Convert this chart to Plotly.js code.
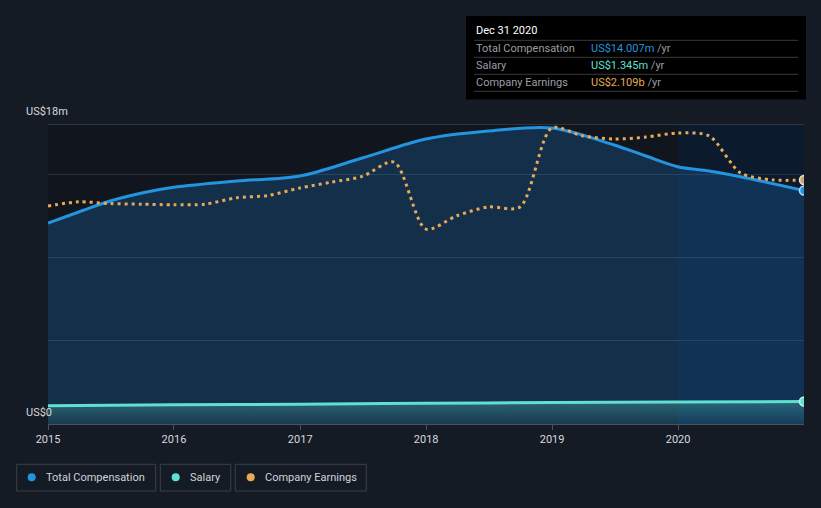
<!DOCTYPE html>
<html>
<head>
<meta charset="utf-8">
<script src="https://cdn.plot.ly/plotly-3.0.1.min.js"></script>
<style>
html,body{margin:0;padding:0;background:#151b24;}
#chart{width:821px;height:508px;}
</style>
</head>
<body>
<div id="chart"></div>
<script>
// ---- data ----
const compDates = ['2015-01-01','2015-03-31','2015-06-30','2015-09-30','2015-12-31','2016-06-30','2016-12-31','2017-06-30','2017-12-31','2018-06-30','2018-12-31','2019-06-30','2019-09-30','2019-12-31','2020-03-31','2020-06-30','2020-12-31'];
const compValues = [12.06,12.72,13.38,13.86,14.2,14.58,14.88,15.96,17.1,17.58,17.76,16.74,16.08,15.44,15.18,14.84,14.007];

const salaryDates = ['2015-01-01','2016-01-01','2017-01-01','2018-01-01','2019-01-01','2020-01-01','2020-12-31'];
const salaryValues = [1.10,1.15,1.19,1.24,1.29,1.32,1.345];

const earnDates = ['2015-01-01','2015-03-31','2015-06-30','2015-09-30','2015-12-31','2016-03-31','2016-06-30','2016-09-30','2016-12-31','2017-03-31','2017-06-30','2017-09-30','2017-12-31','2018-03-31','2018-06-30','2018-09-30','2018-12-31','2019-03-31','2019-06-30','2019-09-30','2019-12-31','2020-03-31','2020-06-30','2020-09-30','2020-12-31'];
const earnValues = [1.884,1.92,1.905,1.90,1.895,1.90,1.955,1.975,2.04,2.09,2.14,2.264,1.685,1.80,1.876,1.876,2.558,2.49,2.463,2.48,2.515,2.49,2.17,2.11,2.109];

const yTickVals = [0,5,10,15,18];
const yLabels = ['US$0','US$18m'];
const tooltipTitle = 'Dec 31 2020';
const tooltipRows = [
  {label:'Total Compensation', value:'US$14.007m', color:'#2394df'},
  {label:'Salary', value:'US$1.345m', color:'#5fe0d0'},
  {label:'Company Earnings', value:'US$2.109b', color:'#e8aa55'}
];
const legendItems = [
  {name:'Total Compensation', color:'#2394df'},
  {name:'Salary', color:'#5fe0d0'},
  {name:'Company Earnings', color:'#e8aa55'}
];

// ---- pixel helpers (plot area 48..804 x 124..424) ----
const L=48, R=804, T=124, B=424;
const fx = px => (px-L)/(R-L);
const fy = py => (B-py)/(B-T);
const FONT = 'Roboto, "Open Sans", sans-serif';

const traces = [
  {x: compDates, y: compValues, type:'scatter', mode:'lines', name:'Total Compensation',
   line:{color:'#2394df', width:3, shape:'spline', smoothing:0.9},
   fill:'tozeroy', fillcolor:'rgba(33,150,243,0.2)', hoverinfo:'skip'},
  {x: salaryDates, y: salaryValues, type:'scatter', mode:'lines', name:'Salary',
   line:{color:'#5fe0d0', width:3, shape:'spline'},
   fill:'tozeroy', fillgradient:{type:'vertical', colorscale:[[0,'rgba(95,224,208,0.06)'],[1,'rgba(95,224,208,0.3)']]},
   hoverinfo:'skip'},
  {x: earnDates, y: earnValues, type:'scatter', mode:'lines', name:'Company Earnings', yaxis:'y2',
   line:{color:'#e8aa55', width:3, shape:'spline', smoothing:0.8, dash:'3px,4px'}, hoverinfo:'skip'},
  {x:[compDates[compDates.length-1]], y:[compValues[compValues.length-1]], type:'scatter', mode:'markers',
   marker:{size:9, color:'#2394df', line:{color:'#b8dcf8', width:1.5}}, hoverinfo:'skip'},
  {x:[salaryDates[salaryDates.length-1]], y:[salaryValues[salaryValues.length-1]], type:'scatter', mode:'markers',
   marker:{size:9, color:'#5fe0d0', line:{color:'#c8f4ee', width:1.5}}, hoverinfo:'skip'},
  {x:[earnDates[earnDates.length-1]], y:[earnValues[earnValues.length-1]], type:'scatter', mode:'markers', yaxis:'y2',
   marker:{size:9, color:'#c9a878', line:{color:'#f0e2cc', width:1.5}}, hoverinfo:'skip'}
];

const shapes = [
  // highlighted last-year band
  {type:'rect', xref:'x', yref:'paper', x0:'2020-01-01', x1:'2020-12-31', y0:0, y1:1,
   fillcolor:'#0c1a2e', line:{width:0}, layer:'below'},
  // top line at 18m
  {type:'line', xref:'paper', yref:'y', x0:0, x1:1, y0:18, y1:18, line:{color:'#4d525a', width:1}, layer:'above'},
  // tooltip box
  {type:'rect', xref:'paper', yref:'paper', x0:fx(466), x1:fx(806), y0:fy(16), y1:fy(99.5),
   fillcolor:'#000000', line:{width:0}, layer:'above'}
];
[40.3,57.3,74.3,91.3].forEach(py=>{
  shapes.push({type:'line', xref:'paper', yref:'paper', x0:fx(474), x1:fx(798), y0:fy(py), y1:fy(py),
    line:{color:'#3a3a3a', width:1}, layer:'above'});
});
// legend boxes
const legendBoxes = [[16.7,155.7],[160.3,230.7],[235.3,366.3]];
const legendDotX = [31.7,175.7,250.7];
const legendTextX = [44.3,188.3,263.3];
legendBoxes.forEach((b,i)=>{
  shapes.push({type:'rect', xref:'paper', yref:'paper', x0:fx(b[0]), x1:fx(b[1]), y0:fy(464.3), y1:fy(491),
    fillcolor:'rgba(0,0,0,0)', line:{color:'#3a404a', width:1}, layer:'above'});
  shapes.push({type:'circle', xref:'paper', yref:'paper', x0:fx(legendDotX[i]-4), x1:fx(legendDotX[i]+4),
    y0:fy(477.3+4), y1:fy(477.3-4), fillcolor:legendItems[i].color, line:{width:0}, layer:'above'});
});

const annotations = [
  {xref:'paper', yref:'paper', x:fx(24), y:fy(112), xanchor:'left', yanchor:'middle', showarrow:false,
   text:yLabels[1], font:{family:FONT, size:11, color:'#d6d9de'}},
  {xref:'paper', yref:'paper', x:fx(24), y:fy(412), xanchor:'left', yanchor:'middle', showarrow:false,
   text:yLabels[0], font:{family:FONT, size:11, color:'#d6d9de'}},
  {xref:'paper', yref:'paper', x:fx(474), y:fy(31), xanchor:'left', yanchor:'middle', showarrow:false,
   text:tooltipTitle, font:{family:FONT, size:11, color:'#ffffff'}}
];
tooltipRows.forEach((r,i)=>{
  const cy = 48.5 + i*17;
  annotations.push({xref:'paper', yref:'paper', x:fx(474), y:fy(cy), xanchor:'left', yanchor:'middle', showarrow:false,
    text:r.label, font:{family:FONT, size:11, color:'#9a9ea4'}});
  annotations.push({xref:'paper', yref:'paper', x:fx(589), y:fy(cy), xanchor:'left', yanchor:'middle', showarrow:false,
    text:'<span style="color:'+r.color+'">'+r.value+'</span> /yr', font:{family:FONT, size:11, color:'#9a9ea4'}});
});
legendItems.forEach((it,i)=>{
  annotations.push({xref:'paper', yref:'paper', x:fx(legendTextX[i]), y:fy(477.5), xanchor:'left', yanchor:'middle', showarrow:false,
    text:it.name, font:{family:FONT, size:11, color:'#d0d3d8'}});
});

const layout = {
  width:821, height:508,
  margin:{l:L, r:821-R, t:T, b:508-B, pad:0},
  paper_bgcolor:'#151b24',
  plot_bgcolor:'#11161e',
  showlegend:false,
  font:{family:FONT, size:11, color:'#d6d9de'},
  xaxis:{type:'date', range:['2015-01-01','2020-12-31'], tick0:'2015-01-01', dtick:'M12', tickformat:'%Y',
    showgrid:false, zeroline:false, showline:true, linecolor:'#4d525a', linewidth:1,
    ticks:'outside', ticklen:5, tickcolor:'#4d525a', tickfont:{family:FONT, size:11, color:'#d6d9de'}, fixedrange:true},
  yaxis:{range:[0,18], tickvals:yTickVals, showticklabels:false, showgrid:true, gridcolor:'#28303b', gridwidth:1,
    zeroline:false, showline:false, ticks:'', fixedrange:true},
  yaxis2:{range:[0,2.593], overlaying:'y', visible:false, showgrid:false, zeroline:false, fixedrange:true},
  shapes:shapes,
  annotations:annotations
};

Plotly.newPlot('chart', traces, layout, {displayModeBar:false, staticPlot:true});
</script>
</body>
</html>
